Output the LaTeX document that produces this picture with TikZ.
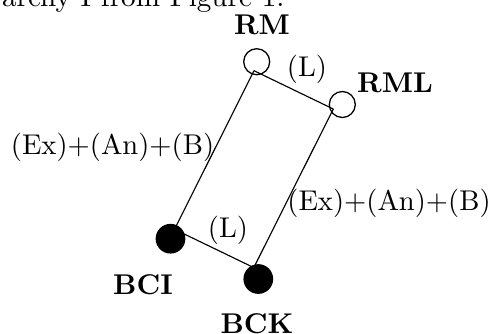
\documentclass[tikz,border=0pt]{standalone}
\begin{document}
\begin{tikzpicture}[x=0.35pt,y=-0.35pt,
  opencirc/.style={circle,draw,line width=0.45pt,minimum size=9.1pt,inner sep=0pt},
  fullcirc/.style={circle,fill=black,draw=black,minimum size=10pt,inner sep=0pt},
  edgeline/.style={line width=0.4pt},
  lbl/.style={inner sep=0pt,anchor=center},
  bold/.style={lbl,font=\bfseries}]
\useasboundingbox (0,0) rectangle (491,333);
% caption fragment cut at top
\node[inner sep=0pt,anchor=base east,font=\fontsize{10.2}{12}\selectfont] (cap) at (285,6) {archy I from Figure 1.};
% vertices
\coordinate (vrm) at (254,70.7);
\coordinate (vrml) at (333.3,109);
\coordinate (vbci) at (174.5,229.3);
\coordinate (vbck) at (253.8,267.6);
% edges
\draw[edgeline] (vrm) -- (vrml);
\draw[edgeline] (vrm) -- (vbci);
\draw[edgeline] (vrml) -- (vbck);
\draw[edgeline] (vbci) -- (vbck);
% circles
\node[opencirc] (RM) at (256.7,61.7) {};
\node[opencirc] (RML) at (342.3,104.5) {};
\node[fullcirc] (BCI) at (170.5,238.7) {};
\node[fullcirc] (BCK) at (258.3,279) {};
% labels
\node[bold] (lRM) at (262,25) {RM};
\node[bold] (lRML) at (395,83) {RML};
\node[bold] (lBCI) at (143,285) {BCI};
\node[bold] (lBCK) at (257,323.5) {BCK};
\node[lbl] (lL1) at (307,69) {(L)};
\node[lbl] (lL2) at (228,230) {(L)};
\node[lbl] (lE1) at (112.5,147.5) {(Ex)+(An)+(B)};
\node[lbl] (lE2) at (389,203.5) {(Ex)+(An)+(B)};
\end{tikzpicture}
\end{document}
